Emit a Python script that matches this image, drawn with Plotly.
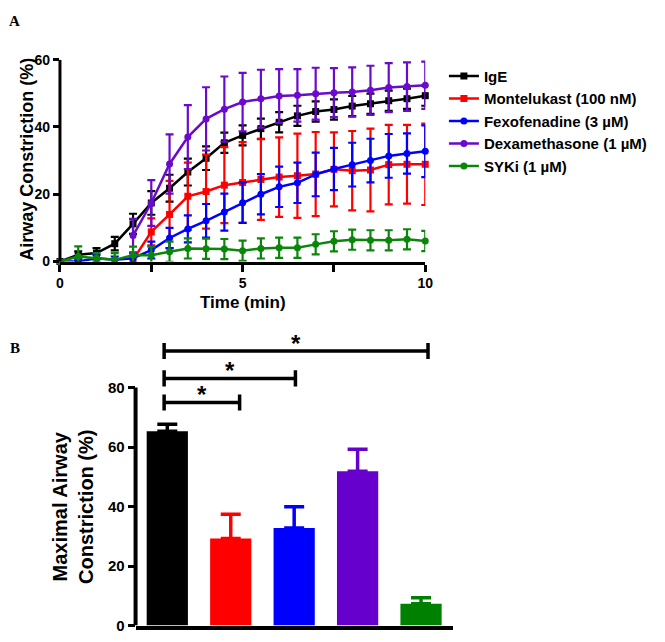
import plotly.graph_objects as go

W, H = 665, 642

# ---------------- Panel A data ----------------
time_all = [0, 0.5, 1, 1.5, 2, 2.5, 3, 3.5, 4, 4.5, 5, 5.5, 6, 6.5, 7, 7.5, 8, 8.5, 9, 9.5, 10]
time_late = [2, 2.5, 3, 3.5, 4, 4.5, 5, 5.5, 6, 6.5, 7, 7.5, 8, 8.5, 9, 9.5, 10]

ige_mean = [0, 2, 2.5, 5.3, 11.2, 17.4, 21.8, 26.6, 30.7, 35.3, 37.5, 39.5, 41.4, 43.3, 44.6, 45.2, 46.2, 46.9, 47.8, 48.4, 49.3]
ige_err = [0, 1, 1.5, 2, 3, 3.5, 4, 4, 3.5, 3, 3, 3, 3, 3, 3, 3, 3, 3, 3, 3, 3]

mont_mean = [0.5, 8.8, 14, 19.4, 20.8, 22.7, 23.5, 24.4, 25.1, 25.5, 26, 27.4, 27, 27.2, 28.8, 28.9, 28.9]
mont_err = [1, 4, 10, 10, 11, 11.3, 12, 12, 11.8, 12.5, 12.5, 11, 11.8, 12.3, 11.8, 11.7, 12.1]

fexo_mean = [0, 0, 1, 0.5, 1, 3.4, 7, 9.7, 12.1, 14.7, 17.5, 20, 22.2, 23.4, 25.9, 27.5, 28.8, 30, 31.4, 32.1, 32.8]
fexo_err = [0, 0.5, 1, 1, 1.5, 2.5, 3, 4, 5, 5.5, 6, 6, 6, 6, 6.5, 6.3, 6.5, 6.5, 6.5, 6, 7.7]

dexa_mean = [7.7, 17.4, 29, 37, 42.4, 45.3, 47.4, 48.4, 49.2, 49.4, 49.9, 50.2, 50.4, 50.9, 51.7, 52, 52.4]
dexa_err = [5, 6.8, 8.8, 9.5, 9.4, 9.7, 8.7, 8.6, 8, 7.8, 7.7, 7.3, 7.3, 7.3, 7.3, 7.2, 7]

syk_mean = [0, 1.5, 1.0, 0.5, 1.9, 1.9, 2.9, 3.9, 3.8, 3.7, 3.2, 3.9, 4.1, 4.1, 5.1, 6.0, 6.5, 6.3, 6.3, 6.6, 6.1]
syk_err = [0, 3, 1.5, 2, 2.5, 2.5, 3, 3, 3, 3, 3, 3, 3, 3, 3, 3, 3, 3, 3, 3, 3]

series_names = ["IgE", "Montelukast (100 nM)", "Fexofenadine (3 \u00b5M)",
                "Dexamethasone (1 \u00b5M)", "SYKi (1 \u00b5M)"]
series_colors = ["#000000", "#FF0000", "#0000FF", "#6A0ACC", "#0A870A"]
series_symbols = ["square", "square", "circle", "circle", "circle"]

# ---------------- Panel B data ----------------
bar_values = [65.3, 29.3, 32.8, 51.9, 7.3]
bar_errors = [2.4, 8.1, 7.1, 7.4, 2.0]
bar_colors = ["#000000", "#FF0000", "#0000FF", "#6600CC", "#008000"]

# significance brackets
sig_start = [-0.05, -0.05, -0.05]
sig_end = [1.14, 2.02, 4.11]
sig_y = [75, 83.1, 92.3]

tick_a_y = [0, 20, 40, 60]
tick_a_x = [0, 2.5, 5, 7.5, 10]
tick_a_x_text = ["0", "", "5", "", "10"]
tick_b_y = [0, 20, 40, 60, 80]

FONT = "Arial, Liberation Sans, sans-serif"

fig = go.Figure()

a_data = [
    (time_all, ige_mean, ige_err),
    (time_late, mont_mean, mont_err),
    (time_all, fexo_mean, fexo_err),
    (time_late, dexa_mean, dexa_err),
    (time_all, syk_mean, syk_err),
]
for (t, m, e), name, col, sym in zip(a_data, series_names, series_colors, series_symbols):
    fig.add_trace(go.Scatter(
        x=t, y=m, name=name, mode="lines+markers",
        line=dict(color=col, width=2.5),
        marker=dict(color=col, size=7, symbol=sym),
        error_y=dict(type="data", array=e, color=col, thickness=2.2, width=4),
        cliponaxis=False, xaxis="x", yaxis="y",
    ))

for i, (v, e, c) in enumerate(zip(bar_values, bar_errors, bar_colors)):
    fig.add_trace(go.Bar(
        x=[i], y=[v], width=0.65, marker=dict(color=c, line=dict(width=0)),
        error_y=dict(type="data", array=[e], arrayminus=[0], symmetric=False,
                     color=c, thickness=3.5, width=10),
        showlegend=False, xaxis="x2", yaxis="y2",
    ))

shapes = []
shapes.append(dict(type="line", xref="x domain", yref="y", x0=0, x1=0, y0=0, y1=60,
                   line=dict(color="black", width=3)))
shapes.append(dict(type="line", xref="x2 domain", yref="y2", x0=0, x1=0, y0=0, y1=80,
                   line=dict(color="black", width=4)))
annotations = []
for x0, x1, y in zip(sig_start, sig_end, sig_y):
    shapes.append(dict(type="line", xref="x2", yref="y2", x0=x0, x1=x1, y0=y, y1=y,
                       line=dict(color="black", width=3.5)))
    for xx in (x0, x1):
        shapes.append(dict(type="line", xref="x2", yref="y2", x0=xx, x1=xx,
                           y0=y - 2.7, y1=y + 2.7, line=dict(color="black", width=3.5)))
    annotations.append(dict(xref="x2", yref="y2", x=(x0 + x1) / 2, y=y, text="<b>*</b>",
                            showarrow=False, yanchor="bottom", yshift=-8,
                            font=dict(family=FONT, size=24, color="black")))

annotations += [
    dict(xref="paper", yref="paper", x=3 / W, y=1 - 3 / H, xanchor="left", yanchor="top",
         text="<b>A</b>", showarrow=False,
         font=dict(family="Liberation Serif, Times New Roman, serif", size=15, color="black")),
    dict(xref="paper", yref="paper", x=4 / W, y=1 - 338 / H, xanchor="left", yanchor="top",
         text="<b>B</b>", showarrow=False,
         font=dict(family="Liberation Serif, Times New Roman, serif", size=15, color="black")),
    dict(xref="paper", yref="paper", x=243 / W, y=1 - 302 / H, xanchor="center", yanchor="middle",
         text="<b>Time (min)</b>", showarrow=False,
         font=dict(family=FONT, size=17, color="black")),
    dict(xref="paper", yref="paper", x=24 / W, y=1 - 155 / H, xanchor="center", yanchor="middle",
         text="<b>Airway Constriction (%)</b>", showarrow=False, textangle=-90,
         font=dict(family=FONT, size=18, color="black")),
    dict(xref="paper", yref="paper", x=71 / W, y=1 - 512 / H, xanchor="center", yanchor="middle",
         text="<b>Maximal Airway<br>Constriction (%)</b>", showarrow=False, textangle=-90,
         font=dict(family=FONT, size=20, color="black")),
]

axis_common = dict(showgrid=False, zeroline=False, linecolor="black", tickcolor="black",
                   ticks="outside", tickwidth=3)

fig.update_layout(
    width=W, height=H, margin=dict(l=0, r=0, t=0, b=0),
    paper_bgcolor="white", plot_bgcolor="white",
    font=dict(family=FONT, color="black"),
    showlegend=True,
    legend=dict(x=448 / W, y=1 - 53 / H, xanchor="left", yanchor="top",
                font=dict(family=FONT, size=15, weight="bold", color="black"),
                bgcolor="rgba(0,0,0,0)", itemclick=False, tracegroupgap=0),
    xaxis=dict(domain=[57 / W, 429 / W], range=[0, 10], anchor="y",
               tickvals=tick_a_x, ticktext=tick_a_x_text, ticklen=7,
               showline=True, linewidth=3,
               tickfont=dict(family=FONT, size=14, weight="bold"),
               **axis_common),
    yaxis=dict(domain=[1 - 260 / H, 1 - 53 / H], range=[0, 60], anchor="x",
               tickvals=tick_a_y, ticklen=6, showline=False,
               tickfont=dict(family=FONT, size=14, weight="bold"),
               **axis_common),
    xaxis2=dict(domain=[134 / W, 457 / W], range=[-0.5, 4.5], anchor="y2",
                showticklabels=False, ticks="", showline=True, linewidth=4,
                linecolor="black", showgrid=False, zeroline=False),
    yaxis2=dict(domain=[1 - 633.3 / H, 1 - (633.3 - 95 * 3.05) / H], range=[0, 95], anchor="x2",
                tickvals=tick_b_y, ticklen=7, showline=False,
                tickfont=dict(family=FONT, size=15, weight="bold"),
                **axis_common),
    shapes=shapes, annotations=annotations,
)

fig.write_html("out.html", config={"displayModeBar": False},
               post_script="document.body.style.margin='0';document.body.style.overflow='hidden';")
